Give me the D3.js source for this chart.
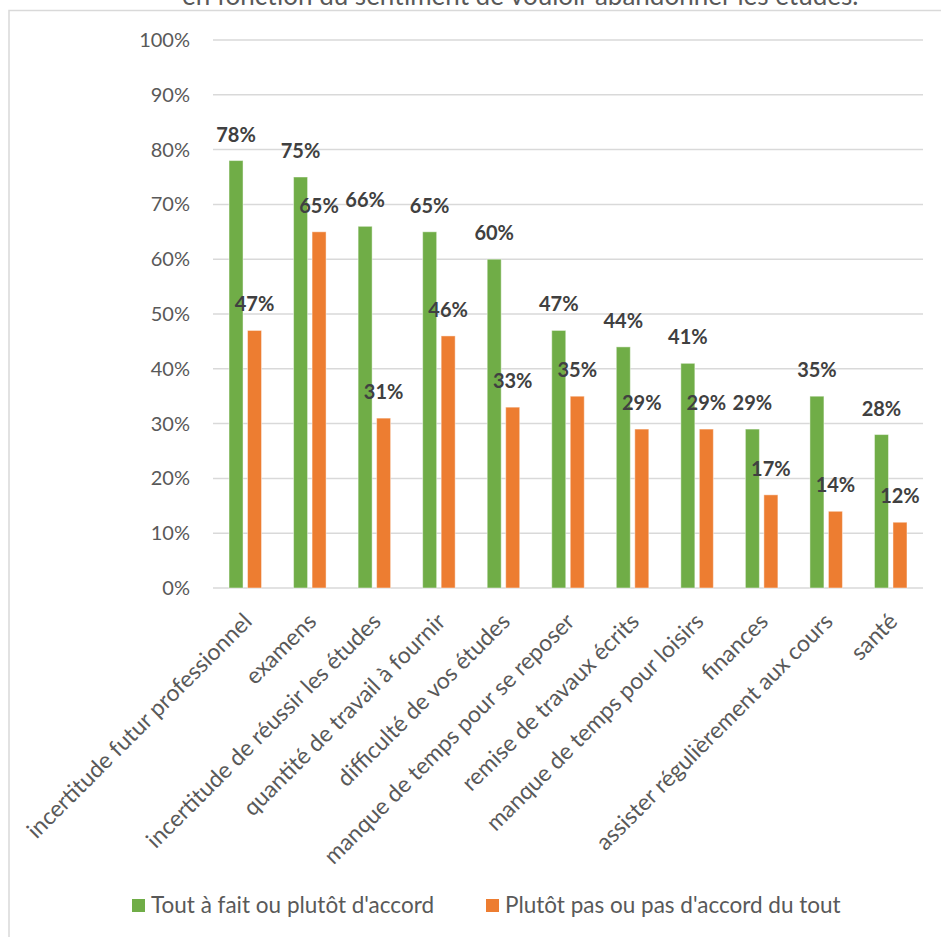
<!DOCTYPE html>
<html>
<head>
<meta charset="utf-8">
<script src="https://cdn.jsdelivr.net/npm/d3@7"></script>
<style>
  body { margin: 0; background: #fff; }
  svg { display: block; font-family: Lato, "Open Sans", sans-serif; }
</style>
</head>
<body>
<div id="chart"></div>
<script>
const categories = [
  "incertitude futur professionnel",
  "examens",
  "incertitude de réussir les études",
  "quantité de travail à fournir",
  "difficulté de vos études",
  "manque de temps pour se reposer",
  "remise de travaux écrits",
  "manque de temps pour loisirs",
  "finances",
  "assister régulièrement aux cours",
  "santé"
];
const accord = [78, 75, 66, 65, 60, 47, 44, 41, 29, 35, 28];
const pasAccord = [47, 65, 31, 46, 33, 35, 29, 29, 17, 14, 12];
const seriesNames = ["Tout à fait ou plutôt d'accord", "Plutôt pas ou pas d'accord du tout"];
const yTicks = [0, 10, 20, 30, 40, 50, 60, 70, 80, 90, 100];
const title = "en fonction du sentiment de vouloir abandonner les études.";

const width = 941, height = 937;
const colors = ["#70ad47", "#ed7d31"];
const grid = "#d9d9d9";

const svg = d3.select("#chart").append("svg")
  .attr("width", width)
  .attr("height", height);

// chart frame (cut off at right and bottom)
svg.append("rect")
  .attr("x", 9).attr("y", 10.5)
  .attr("width", 1000).attr("height", 1000)
  .attr("fill", "none")
  .attr("stroke", grid)
  .attr("stroke-width", 1.5);

// title, mostly cut off above the frame
svg.append("text")
  .attr("x", 182).attr("y", 4.5)
  .attr("font-size", 26)
  .attr("fill", "#595959")
  .text(title);

const x = d3.scaleBand()
  .domain(categories)
  .range([213, 923]);

const y = d3.scaleLinear()
  .domain([0, 100])
  .range([588, 40]);

// gridlines
svg.append("g")
  .selectAll("line")
  .data(yTicks)
  .join("line")
    .attr("x1", 213).attr("x2", 923)
    .attr("y1", d => y(d)).attr("y2", d => y(d))
    .attr("stroke", grid)
    .attr("stroke-width", 1.5);

// y axis labels
const yAxis = svg.append("g")
  .attr("transform", "translate(190,0)")
  .call(d3.axisLeft(y).tickValues(yTicks).tickFormat(d => d + "%").tickSize(0).tickPadding(0));
yAxis.select(".domain").remove();
yAxis.selectAll("text")
  .attr("font-family", "Lato, sans-serif")
  .attr("font-size", 20)
  .attr("fill", "#595959");

// bars
const series = [accord, pasAccord];
const barW = 14;
const offsets = [-16.25, 2.25];

series.forEach((vals, s) => {
  const g = svg.append("g");
  g.selectAll("rect")
    .data(vals)
    .join("rect")
      .attr("x", (d, i) => x(categories[i]) + x.bandwidth() / 2 + offsets[s])
      .attr("y", d => y(d))
      .attr("width", barW)
      .attr("height", d => y(0) - y(d))
      .attr("fill", colors[s])
      .attr("stroke", "#fff")
      .attr("stroke-opacity", 0.45)
      .attr("stroke-width", 1);

  g.selectAll("text")
    .data(vals)
    .join("text")
      .attr("x", (d, i) => x(categories[i]) + x.bandwidth() / 2 + offsets[s] + barW / 2)
      .attr("y", d => y(d) - 19)
      .attr("text-anchor", "middle")
      .attr("font-size", 20)
      .attr("font-weight", "bold")
      .attr("fill", "#404040")
      .text(d => d + "%");
});

// category labels, rotated
svg.append("g")
  .selectAll("text")
  .data(categories)
  .join("text")
    .attr("transform", d => "translate(" + (x(d) + x.bandwidth() / 2 + 8) + ",623) rotate(-45)")
    .attr("text-anchor", "end")
    .attr("font-size", 23)
    .attr("fill", "#595959")
    .text(d => d);

// legend
const legendX = [132, 486];
const legend = svg.append("g");
seriesNames.forEach((name, i) => {
  legend.append("rect")
    .attr("x", legendX[i]).attr("y", 899)
    .attr("width", 13).attr("height", 13)
    .attr("fill", colors[i]);
  legend.append("text")
    .attr("x", legendX[i] + 19).attr("y", 913)
    .attr("font-size", 22.5)
    .attr("fill", "#595959")
    .text(name);
});
</script>
</body>
</html>
